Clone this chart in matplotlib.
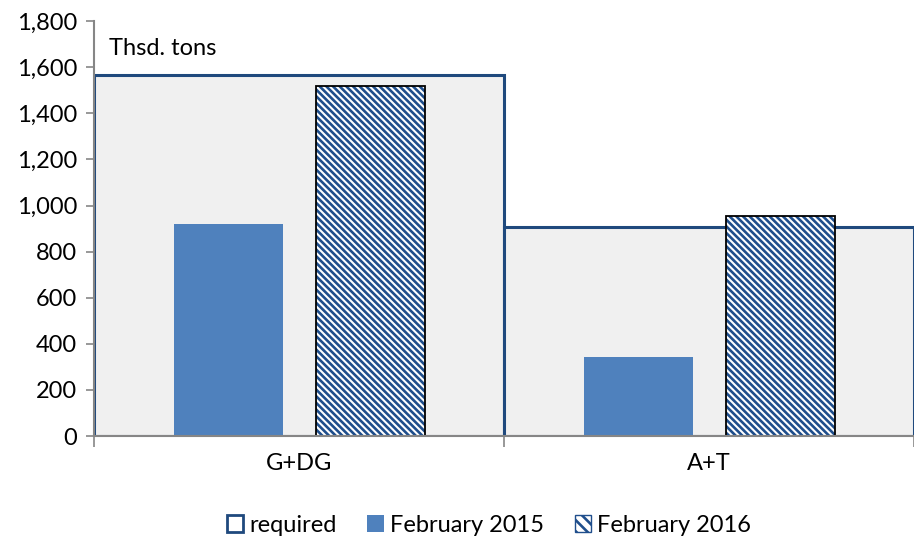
import matplotlib
matplotlib.use('Agg')
from matplotlib import pyplot as plt
from matplotlib.patches import Patch

# data
cats = ["G+DG", "A+T"]
required = [1565, 905]
feb_2015 = [920, 345]
feb_2016 = [1520, 955]
y_ticks = [0, 200, 400, 600, 800, 1000, 1200, 1400, 1600, 1800]

plt.rcParams['font.family'] = ['Lato', 'DejaVu Sans']
plt.rcParams['hatch.linewidth'] = 1.9

fig = plt.figure(figsize=(9.14, 5.41), dpi=100)
ax = fig.add_axes([0.1028, 0.194, 0.8972, 0.767])

x = list(range(len(cats)))
line_c = '#1f497d'
hatch_c = '#1f4e8c'
hatch = '\\\\\\\\\\'

# required as a wide step bar
ax.bar(x, required, width=1.0, color='#f0f0f0', edgecolor=line_c, linewidth=2.2, zorder=1)

w = 0.265
ax.bar([i - 0.172 for i in x], feb_2015, width=w, color='#4f81bd', zorder=2)
# hatch in blue, then black outline on top
ax.bar([i + 0.175 for i in x], feb_2016, width=w, color='white', hatch=hatch,
       edgecolor=hatch_c, linewidth=0, zorder=2)
ax.bar([i + 0.175 for i in x], feb_2016, width=w, fill=False,
       edgecolor='black', linewidth=1.3, zorder=3)

ax.set_xlim(-0.5, 1.48)
ax.set_ylim(0, 1800)
ax.set_yticks(y_ticks)
ax.set_yticklabels(['{:,}'.format(v) for v in y_ticks], fontsize=17)
ax.set_xticks([-0.5, 0.5, 1.5])
ax.set_xticklabels([])
ax.set_xticks(x, minor=True)
ax.set_xticklabels(cats, minor=True, fontsize=17)
ax.tick_params(axis='x', which='minor', length=0, pad=12)
ax.tick_params(axis='x', which='major', length=8, color='#868686', width=1.2)
ax.tick_params(axis='y', length=6, color='#868686', width=1.2, pad=6)

for s in ['top', 'right']:
    ax.spines[s].set_visible(False)
for s in ['left', 'bottom']:
    ax.spines[s].set_color('#868686')
    ax.spines[s].set_linewidth(1.5)
    ax.spines[s].set_zorder(5)

ax.text(0.018, 0.96, 'Thsd. tons', transform=ax.transAxes, fontsize=17, va='top')

handles = [Patch(facecolor='white', edgecolor=line_c, linewidth=2, label='required'),
           Patch(facecolor='#4f81bd', label='February 2015'),
           Patch(facecolor='white', edgecolor=hatch_c, hatch='\\\\\\', linewidth=1,
                 label='February 2016')]
fig.legend(handles=handles, loc='lower center', bbox_to_anchor=(0.535, -0.03), ncol=3,
           frameon=False, fontsize=17, handlelength=0.7, handleheight=0.7,
           handletextpad=0.25, columnspacing=1.3)

plt.savefig('out.png', dpi=100)
